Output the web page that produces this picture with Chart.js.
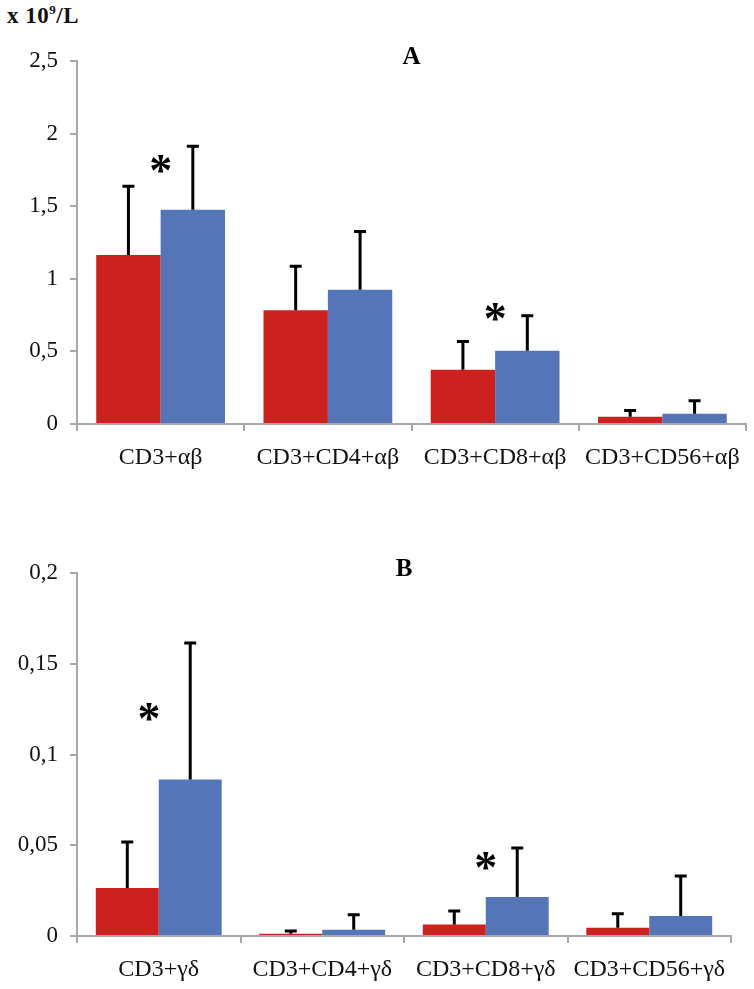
<!DOCTYPE html>
<html>
<head>
<meta charset="utf-8">
<script src="https://cdn.jsdelivr.net/npm/chart.js@4"></script>
<style>
  body { margin: 0; background: #fff; width: 754px; height: 989px; position: relative; overflow: hidden; }
  #unit { position: absolute; left: 7px; top: 2px; font: bold 23px "Liberation Serif", serif; color: #111; letter-spacing: 0.5px; }
  #unit sup { font-size: 13px; }
  .box { position: absolute; left: 0; width: 754px; }
</style>
</head>
<body>
<div id="unit">x 10<sup>9</sup>/L</div>
<div class="box" style="top:0;height:490px"><canvas id="chartA"></canvas></div>
<div class="box" style="top:495px;height:494px"><canvas id="chartB"></canvas></div>
<script>
const labelsA = ["CD3+αβ", "CD3+CD4+αβ", "CD3+CD8+αβ", "CD3+CD56+αβ"];
const redA = [1.164, 0.783, 0.374, 0.050];
const redErrA = [0.476, 0.307, 0.198, 0.046];
const blueA = [1.476, 0.925, 0.505, 0.071];
const blueErrA = [0.441, 0.404, 0.244, 0.092];
const starsA = [[0, 1.80], [2, 0.78]];
const ticksA = [0, 0.5, 1, 1.5, 2, 2.5];

const labelsB = ["CD3+γδ", "CD3+CD4+γδ", "CD3+CD8+γδ", "CD3+CD56+γδ"];
const redB = [0.0264, 0.0013, 0.0063, 0.0046];
const redErrB = [0.0256, 0.0017, 0.0077, 0.0079];
const blueB = [0.0862, 0.0035, 0.0215, 0.0110];
const blueErrB = [0.0755, 0.0085, 0.0272, 0.0223];
const starsB = [[-0.06, 0.124], [2, 0.042]];
const ticksB = [0, 0.05, 0.1, 0.15, 0.2];

const RED = "#CC211E";
const BLUE = "#5476B8";
const AXIS = "#a8a8a8";
const SERIF = "'Liberation Serif', 'Times New Roman', serif";

const extras = {
  id: "extras",
  afterDatasetsDraw(chart, args, opts) {
    const ctx = chart.ctx;
    const y = chart.scales.y, x = chart.scales.x;
    ctx.save();
    ctx.strokeStyle = "#000";
    ctx.lineWidth = 3;
    chart.data.datasets.forEach((ds, i) => {
      chart.getDatasetMeta(i).data.forEach((bar, j) => {
        const top = y.getPixelForValue(ds.data[j] + ds.err[j]);
        ctx.beginPath();
        ctx.moveTo(bar.x, bar.y);
        ctx.lineTo(bar.x, top);
        ctx.moveTo(bar.x - 6, top + 0.5);
        ctx.lineTo(bar.x + 6, top + 0.5);
        ctx.stroke();
      });
    });
    ctx.fillStyle = "#000";
    ctx.textAlign = "center";
    ctx.textBaseline = "middle";
    ctx.font = "bold 46px " + SERIF;
    opts.stars.forEach(s => {
      const px = x.getPixelForValue(0) + s[0] * (x.getPixelForValue(1) - x.getPixelForValue(0));
      ctx.fillText("*", px, y.getPixelForValue(s[1]) + 11);
    });
    ctx.font = "bold 25px " + SERIF;
    ctx.fillText(opts.title, (chart.chartArea.left + chart.chartArea.right) / 2, chart.chartArea.top - 3);
    ctx.restore();
  }
};

function makeChart(id, labels, red, redErr, blue, blueErr, ticks, max, stars, title, pad, xH) {
  new Chart(document.getElementById(id), {
    type: "bar",
    data: {
      labels: labels,
      datasets: [
        { data: red, err: redErr, backgroundColor: RED },
        { data: blue, err: blueErr, backgroundColor: BLUE }
      ]
    },
    options: {
      responsive: true,
      maintainAspectRatio: false,
      animation: false,
      categoryPercentage: 0.77,
      barPercentage: 1,
      layout: { padding: pad },
      plugins: {
        legend: { display: false },
        tooltip: { enabled: false },
        extras: { stars: stars, title: title }
      },
      scales: {
        x: {
          grid: { drawOnChartArea: false, color: AXIS, tickLength: 7, lineWidth: 2 },
          border: { color: AXIS, width: 2 },
          ticks: { color: "#111", font: { family: SERIF, size: 24 }, padding: 12, maxRotation: 0 },
          afterFit: s => { s.height = xH; }
        },
        y: {
          min: 0, max: max,
          afterBuildTicks: s => { s.ticks = ticks.map(v => ({ value: v })); },
          grid: { drawOnChartArea: false, color: AXIS, tickLength: 7, lineWidth: 2 },
          border: { color: AXIS, width: 2 },
          ticks: {
            color: "#111", font: { family: SERIF, size: 23 }, padding: 12,
            callback: v => String(v).replace(".", ",")
          },
          afterFit: s => { s.width = 77; }
        }
      }
    },
    plugins: [extras]
  });
}

makeChart("chartA", labelsA, redA, redErrA, blueA, blueErrA, ticksA, 2.5, starsA, "A",
  { top: 61, right: 8, left: 0, bottom: 0 }, 66);
makeChart("chartB", labelsB, redB, redErrB, blueB, blueErrB, ticksB, 0.2, starsB, "B",
  { top: 78, right: 23, left: 0, bottom: 0 }, 53);
</script>
</body>
</html>
